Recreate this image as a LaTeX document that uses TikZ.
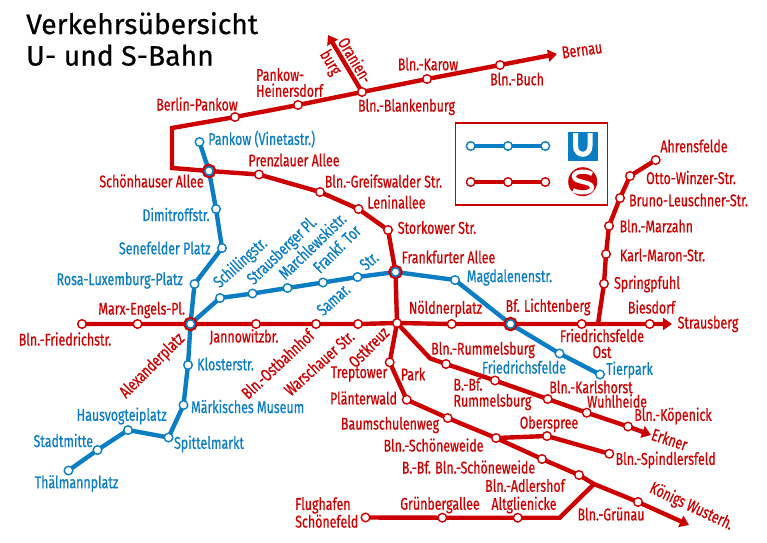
\documentclass[tikz,border=0pt]{standalone}
\usepackage{fontspec}
\usetikzlibrary{arrows.meta}
\setmainfont{Fira Sans}
\newfontfamily\netfont[FakeStretch=0.73,FakeBold=0.6]{Fira Sans}
\newfontfamily\headfont[FakeStretch=1.01,FakeBold=0.6]{Fira Sans}
\definecolor{sred}{HTML}{CC0000}
\definecolor{sblue}{HTML}{0B7DC2}
\pgfdeclarelayer{lines}
\pgfsetlayers{lines,main}
\tikzset{
  x=1pt,y=-1pt,
  stbase/.style={circle,minimum size=8.6pt,inner sep=0pt,fill=white,line width=1.4pt},
  rs/.style={stbase,draw=sred},
  bs/.style={stbase,draw=sblue},
  hub/.style={circle,minimum size=8.6pt,inner sep=0pt,fill=white,draw=sblue,line width=1.6pt,
    preaction={draw=white,line width=3.2pt},
    preaction={draw=sred,line width=5.8pt}},
  rline/.style={draw=sred,line width=4.4pt,line join=miter},
  bline/.style={draw=sblue,line width=4.4pt,line join=round},
  arr/.style={-{Triangle[length=9pt,width=12pt]}},
  lbl/.style={font=\netfont\fontsize{17}{16}\selectfont,inner sep=0pt,align=center},
  lr/.style={lbl,text=sred},
  lb/.style={lbl,text=sblue},
  ml/.style={align=left,anchor=west},
}
\begin{document}
\begin{tikzpicture}
\useasboundingbox (0,0) rectangle (767,542);
\begin{pgfonlayer}{lines}
\fill[white] (0,0) rectangle (767,542);
\end{pgfonlayer}
% title
\node[font=\headfont\fontsize{28}{31.5}\selectfont,align=left,anchor=west,inner sep=0pt] (title) at (26,39) {Verkehrsübersicht\\U- und S-Bahn};
% legend
\node[draw=sred,line width=1.1pt,minimum width=152pt,minimum height=82pt,inner sep=0pt] (legend) at (531.3,164) {};
\node[bs] (kb1) at (470.7,146) {};
\node[bs] (kb2) at (508,146) {};
\node[bs] (kb3) at (545.3,146) {};
\node[rs] (kr1) at (470.7,182) {};
\node[rs] (kr2) at (508,182) {};
\node[rs] (kr3) at (545.3,182) {};
\fill[sblue] (568,131.5) rectangle (597.5,160.5);
\draw[white,line width=5pt] (575.5,133) -- (575.5,146) .. controls (575.5,157) and (590,157) .. (590,146) -- (590,133);
\fill[sred] (582.7,181.7) circle[radius=14.5];
\draw[white,line width=4.2pt] (592,174) .. controls (586,170) and (573,171) .. (574,177) .. controls (575,183) and (591,181) .. (592,187) .. controls (593,193) and (579,194) .. (573,190);
% stations: S-Bahn north
\coordinate (ncorner) at (172,128);
\coordinate (wcorner) at (172,168);
\node[rs] (pankow) at (235,117) {};
\node[rs] (heiners) at (298,105) {};
\node[rs] (blanken) at (362,92) {};
\node[rs] (karow) at (427,79) {};
\node[rs] (buch) at (500,65) {};
\coordinate (bernau) at (557,54);
\coordinate (oranien) at (328,35);
\node[hub] (schoen) at (209,171) {};
\node[rs] (prenz) at (259,174.5) {};
\node[rs] (greifs) at (320,192) {};
\node[rs] (lenin) at (358.5,209) {};
\node[rs] (stork) at (388,230) {};
\node[hub] (frank) at (395.5,272) {};
\node[rs] (ostkreuz) at (397,323) {};
% main east-west
\node[rs] (friedr) at (82,324) {};
\node[rs] (marx) at (137.5,324) {};
\node[hub] (alex) at (190.5,324) {};
\node[rs] (janno) at (256,324) {};
\node[rs] (ostb) at (316,324) {};
\node[rs] (warsch) at (358,324) {};
\node[rs] (noeld) at (451.7,324) {};
\node[hub] (licht) at (510.5,324) {};
\node[rs] (ffost) at (581.7,324) {};
\node[rs] (biesd) at (649.7,324) {};
\coordinate (straus) at (672,324);
% Ahrensfelde
\coordinate (ajunc) at (598,324);
\node[rs] (spring) at (604,283.7) {};
\node[rs] (karlm) at (606,254) {};
\node[rs] (marz) at (609,226) {};
\node[rs] (bruno) at (620,198) {};
\node[rs] (otto) at (630,176) {};
\node[rs] (ahrens) at (655.7,160) {};
% Erkner
\coordinate (ecorner) at (430,358.3);
\node[rs] (rumm) at (446,364) {};
\node[rs] (bfrumm) at (495,380.5) {};
\node[rs] (karlsh) at (547.7,399) {};
\node[rs] (wuhl) at (586.7,412.7) {};
\node[rs] (koep) at (628,426.5) {};
\coordinate (erkner) at (651,435);
% Koenigs Wusterhausen
\node[rs] (trept) at (389.7,362.3) {};
\node[rs] (plaent) at (406.7,399.7) {};
\node[rs] (baum) at (447.7,418) {};
\node[rs] (schoenew) at (496,438) {};
\node[rs] (bfsch) at (542,459) {};
\node[rs] (adler) at (579,475) {};
\coordinate (gjunc) at (594,484);
\node[rs] (gruen) at (638,502) {};
\coordinate (kw) at (689,525);
\node[rs] (obersp) at (547,436) {};
\node[rs] (spind) at (609.3,453.7) {};
% Flughafen
\node[rs] (flug) at (365.5,517.5) {};
\node[rs] (gberg) at (442.3,517.7) {};
\node[rs] (altgl) at (517.7,517.7) {};
\coordinate (fcorner) at (559.7,517.7);
% U-Bahn
\node[bs] (vineta) at (199.5,142) {};
\node[bs] (dimi) at (216,209) {};
\node[bs] (senef) at (222,248) {};
\node[bs] (rosa) at (194.5,284) {};
\node[bs] (klost) at (188,365) {};
\node[bs] (maerk) at (183.5,405) {};
\node[bs] (spitt) at (168.5,437.5) {};
\node[bs] (hausv) at (128,430) {};
\node[bs] (stadt) at (97.5,450) {};
\node[bs] (thael) at (68.5,470.5) {};
\node[bs] (schill) at (220,298) {};
\node[bs] (strausb) at (252.5,293.5) {};
\node[bs] (march) at (287.5,288) {};
\node[bs] (ftor) at (323,282.5) {};
\node[bs] (samar) at (357.5,277) {};
\node[bs] (magda) at (455,280) {};
\node[bs] (ffeld) at (559.5,353.5) {};
\node[bs] (tier) at (600,374.5) {};
% connectors
\begin{pgfonlayer}{lines}
\draw[bline] (kb1.center) -- (kb2.center) -- (kb3.center);
\draw[rline] (kr1.center) -- (kr2.center) -- (kr3.center);
\draw[rline,arr] (schoen.center) -- (wcorner) -- (ncorner) -- (pankow.center) -- (heiners.center) -- (blanken.center) -- (karow.center) -- (buch.center) -- (bernau);
\draw[rline,arr] (blanken.center) -- (oranien);
\draw[rline,line join=round] (schoen.center) -- (prenz.center) -- (greifs.center) -- (lenin.center) -- (stork.center) -- (frank.center) -- (ostkreuz.center);
\draw[rline,arr] (friedr.center) -- (marx.center) -- (alex.center) -- (janno.center) -- (ostb.center) -- (warsch.center) -- (ostkreuz.center) -- (noeld.center) -- (licht.center) -- (ffost.center) -- (biesd.center) -- (straus);
\draw[rline,line join=round] (ajunc) -- (spring.center) -- (karlm.center) -- (marz.center) -- (bruno.center) -- (otto.center) -- (ahrens.center);
\draw[rline,arr,line join=round] (ostkreuz.center) -- (ecorner) -- (rumm.center) -- (bfrumm.center) -- (karlsh.center) -- (wuhl.center) -- (koep.center) -- (erkner);
\draw[rline,arr,line join=round] (ostkreuz.center) -- (trept.center) -- (plaent.center) -- (baum.center) -- (schoenew.center) -- (bfsch.center) -- (adler.center) -- (gjunc) -- (gruen.center) -- (kw);
\draw[rline,line join=round] (schoenew.center) -- (obersp.center) -- (spind.center);
\draw[rline] (flug.center) -- (gberg.center) -- (altgl.center) -- (fcorner) -- (gjunc);
\draw[bline] (vineta.center) -- (schoen.center) -- (dimi.center) -- (senef.center) -- (rosa.center) -- (alex.center) -- (klost.center) -- (maerk.center) -- (spitt.center) -- (hausv.center) -- (stadt.center) -- (thael.center);
\draw[bline] (alex.center) -- (schill.center) -- (strausb.center) -- (march.center) -- (ftor.center) -- (samar.center) -- (frank.center) -- (magda.center) -- (licht.center) -- (ffeld.center) -- (tier.center);
\end{pgfonlayer}
% red labels
\node[lr] (t01) at (197,104) {Berlin-Pankow};
\node[lr,ml] (t02) at (256,82.5) {Pankow-\\Heinersdorf};
\node[lr,rotate=-59] (t03) at (355.6,60) {Oranien-};
\node[lr,rotate=-59] (t04) at (330,63) {burg};
\node[lr] (t05) at (406.5,107) {Bln.-Blankenburg};
\node[lr] (t06) at (428,64) {Bln.-Karow};
\node[lr] (t07) at (517,79) {Bln.-Buch};
\node[lr,rotate=8] (t08) at (582,50) {Bernau};
\node[lr] (t09) at (294,160) {Prenzlauer Allee};
\node[lr] (t10) at (383.5,181) {Bln.-Greifswalder Str.};
\node[lr] (t11) at (396.5,202) {Leninallee};
\node[lr] (t12) at (437,227.5) {Storkower Str.};
\node[lr] (t13) at (448.5,257) {Frankfurter Allee};
\node[lr] (t14) at (151.5,181) {Schönhauser Allee};
\node[lr] (t15) at (141.7,310) {Marx-Engels-Pl.};
\node[lr] (t16) at (65,339) {Bln.-Friedrichstr.};
\node[lr,rotate=45] (t17) at (152.5,366) {Alexanderplatz};
\node[lr] (t18) at (244,337) {Jannowitzbr.};
\node[lr,rotate=43] (t19) at (277.5,364) {Bln.-Ostbahnhof};
\node[lr,rotate=42] (t20) at (319,363) {Warschauer Str.};
\node[lr,rotate=45] (t21) at (368.5,347) {Ostkreuz};
\node[lr] (t22) at (359,374) {Treptower};
\node[lr] (t23) at (413,374) {Park};
\node[lr] (t24) at (363.5,398) {Plänterwald};
\node[lr] (t25) at (390,425) {Baumschulenweg};
\node[lr] (t26) at (433.5,445) {Bln.-Schöneweide};
\node[lr] (t27) at (468.5,467) {B.-Bf. Bln.-Schöneweide};
\node[lr] (t28) at (525,485.5) {Bln.-Adlershof};
\node[lr] (t29) at (524,505) {Altglienicke};
\node[lr] (t30) at (440,505) {Grünbergallee};
\node[lr,ml] (t31) at (295,512.5) {Flughafen\\Schönefeld};
\node[lr] (t32) at (611,514) {Bln.-Grünau};
\node[lr,rotate=-25] (t33) at (691.3,506.7) {Königs Wusterh.};
\node[lr] (t34) at (665.7,460) {Bln.-Spindlersfeld};
\node[lr] (t35) at (549,424) {Oberspree};
\node[lr,rotate=-18] (t36) at (669.7,439.3) {Erkner};
\node[lr] (t37) at (673,416) {Bln.-Köpenick};
\node[lr] (t38) at (617,401) {Wuhlheide};
\node[lr] (t39) at (591,387) {Bln.-Karlshorst};
\node[lr,ml] (t40) at (453.3,394) {B.-Bf.\\Rummelsburg};
\node[lr] (t41) at (483,350) {Bln.-Rummelsburg};
\node[lr] (t42) at (445.5,309) {Nöldnerplatz};
\node[lr] (t43) at (548,307) {Bf. Lichtenberg};
\node[lr] (t44) at (602,343.5) {Friedrichsfelde\\Ost};
\node[lr] (t45) at (651.5,307) {Biesdorf};
\node[lr] (t46) at (708,324) {Strausberg};
\node[lr] (t47) at (647,284) {Springpfuhl};
\node[lr] (t48) at (662.5,255) {Karl-Maron-Str.};
\node[lr] (t49) at (656.3,226) {Bln.-Marzahn};
\node[lr] (t50) at (688.5,200) {Bruno-Leuschner-Str.};
\node[lr] (t51) at (691,177.5) {Otto-Winzer-Str.};
\node[lr] (t52) at (694,146) {Ahrensfelde};
% blue labels
\node[lb] (u01) at (261.7,139) {Pankow (Vinetastr.)};
\node[lb] (u02) at (176,214.5) {Dimitroffstr.};
\node[lb] (u03) at (164.7,248) {Senefelder Platz};
\node[lb] (u04) at (119.7,280.5) {Rosa-Luxemburg-Platz};
\node[lb] (u05) at (225.5,364) {Klosterstr.};
\node[lb] (u06) at (247.7,406.5) {Märkisches Museum};
\node[lb] (u07) at (209,444) {Spittelmarkt};
\node[lb] (u08) at (121.7,416) {Hausvogteiplatz};
\node[lb] (u09) at (63.3,440.5) {Stadtmitte};
\node[lb] (u10) at (76.5,483.5) {Thälmannplatz};
\node[lb,rotate=42] (u11) at (240.7,263.3) {Schillingstr.};
\node[lb,rotate=44] (u12) at (282.5,251.3) {Strausberger Pl.};
\node[lb,rotate=44] (u13) at (312,245.7) {Marchlewskistr.};
\node[lb,rotate=45] (u14) at (336.7,248.7) {Frankf. Tor};
\node[lb,rotate=40] (u15) at (369,261) {Str.};
\node[lb,rotate=42] (u16) at (333.3,299.7) {Samar.};
\node[lb] (u17) at (509.5,277.5) {Magdalenenstr.};
\node[lb] (u18) at (524,367) {Friedrichsfelde};
\node[lb] (u19) at (629.5,370) {Tierpark};
\end{tikzpicture}
\end{document}
